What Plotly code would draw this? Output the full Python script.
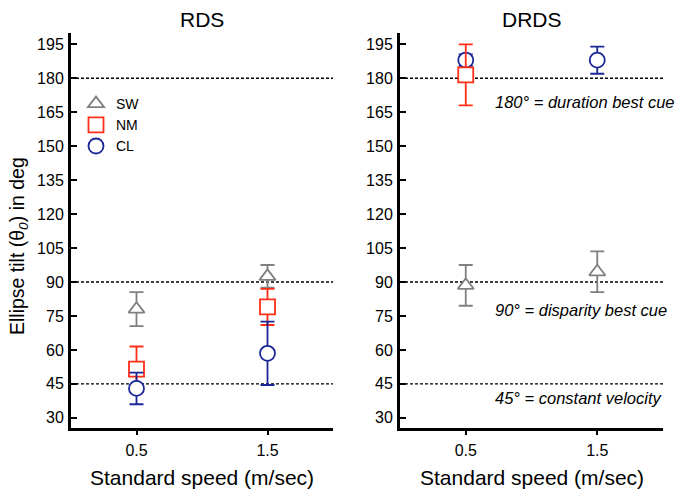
import plotly.graph_objects as go

# ---- data ----
speeds = [0.5, 1.5]
speed_labels = ["0.5", "1.5"]
panels = ["RDS", "DRDS"]
series = ["SW", "NM", "CL"]

rds_sw = [78.0, 92.5]
rds_sw_err = [7.5, 5.0]
rds_nm = [51.5, 79.0]
rds_nm_err = [10.0, 8.0]
rds_cl = [43.0, 58.5]
rds_cl_err = [7.0, 14.0]

drds_sw = [88.5, 94.5]
drds_sw_err = [9.0, 9.0]
drds_nm = [181.5, None]
drds_nm_err = [13.5, 0.0]
drds_cl = [188.0, 188.0]
drds_cl_err = [2.5, 6.0]

ref_lines = [45, 90, 180]
ref_labels = ["45° = constant velocity", "90° = disparity best cue", "180° = duration best cue"]
y_ticks = list(range(30, 196, 15))

colors = {"SW": "#808080", "NM": "#ff2e17", "CL": "#1a2696"}
symbols = {"SW": "triangle-up", "NM": "square", "CL": "circle"}
sizes = {"SW": 14, "NM": 15, "CL": 15}

W, H = 679, 491
FONT = "Liberation Sans, Arial, sans-serif"

fig = go.Figure()

def add(name, y, err, xa, ya, show):
    fig.add_trace(go.Scatter(
        x=speeds, y=y, mode="markers", name=name, showlegend=show,
        xaxis=xa, yaxis=ya,
        marker=dict(symbol=symbols[name], size=sizes[name], color="white",
                    line=dict(color=colors[name], width=1.8)),
        error_y=dict(type="data", array=err, visible=True, color=colors[name],
                     thickness=1.8, width=7),
    ))

add("SW", rds_sw, rds_sw_err, "x", "y", True)
add("NM", rds_nm, rds_nm_err, "x", "y", True)
add("CL", rds_cl, rds_cl_err, "x", "y", True)
add("CL", drds_cl, drds_cl_err, "x2", "y2", False)
add("NM", drds_nm, drds_nm_err, "x2", "y2", False)
add("SW", drds_sw, drds_sw_err, "x2", "y2", False)

ydom = [(H - 428) / H, (H - 33) / H]
xdom1 = [71 / W, 333 / W]
xdom2 = [400 / W, 663 / W]

xcommon = dict(range=[0, 2], tickvals=speeds, ticktext=speed_labels, ticks="outside",
               ticklen=4, tickwidth=2, tickcolor="black", showline=True, linewidth=3,
               linecolor="black", showgrid=False, zeroline=False, ticklabelstandoff=2,
               tickfont=dict(family=FONT, size=16, color="black"))
ycommon = dict(range=[25.5, 200], tickvals=y_ticks, ticks="inside", ticklen=6, tickwidth=2,
               tickcolor="black", showline=True, linewidth=3, linecolor="black",
               showgrid=False, zeroline=False, ticklabelstandoff=1,
               tickfont=dict(family=FONT, size=16, color="black"))

fig.update_layout(
    width=W, height=H, margin=dict(l=0, r=0, t=0, b=0),
    paper_bgcolor="white", plot_bgcolor="white",
    xaxis=dict(domain=xdom1, anchor="y", **xcommon),
    yaxis=dict(domain=ydom, anchor="x", **ycommon),
    xaxis2=dict(domain=xdom2, anchor="y2", **xcommon),
    yaxis2=dict(domain=ydom, anchor="x2", **ycommon),
    legend=dict(x=76 / W, y=(H - 88) / H, xanchor="left", yanchor="top",
                bgcolor="rgba(0,0,0,0)", font=dict(family=FONT, size=14, color="black"),
                tracegroupgap=0),
    showlegend=True,
)

for xr in ["x", "x2"]:
    yr = "y" if xr == "x" else "y2"
    for v in ref_lines:
        fig.add_shape(type="line", xref=f"{xr} domain", yref=yr, x0=0, x1=1, y0=v, y1=v,
                      line=dict(color="black", width=1.3, dash="3px,2px"), layer="below")

# reference labels in the right panel
label_offsets = {45: -14, 90: -28, 180: -24}
for v, t in zip(ref_lines, ref_labels):
    fig.add_annotation(xref="paper", yref="y2", x=493 / W, y=v, text=f"<i>{t}</i>",
                       showarrow=False, xanchor="left", yanchor="middle", yshift=label_offsets[v],
                       font=dict(family=FONT, size=16.5, color="black"))

# titles
for dom, title in zip([xdom1, xdom2], panels):
    cx = (dom[0] + dom[1]) / 2
    fig.add_annotation(xref="paper", yref="paper", x=cx, y=(H - 20) / H, text=title,
                       showarrow=False, xanchor="center", yanchor="middle",
                       font=dict(family=FONT, size=21, color="black"))
    fig.add_annotation(xref="paper", yref="paper", x=cx, y=(H - 477) / H,
                       text="Standard speed (m/sec)", showarrow=False,
                       xanchor="center", yanchor="middle",
                       font=dict(family=FONT, size=21, color="black"))

fig.add_annotation(xref="paper", yref="paper", x=19 / W, y=(H - 246) / H,
                   text="Ellipse tilt (θ<sub><i>0</i></sub>) in deg", textangle=-90,
                   showarrow=False, xanchor="center", yanchor="middle",
                   font=dict(family=FONT, size=19.5, color="black"))

fig.write_html("out.html", config={"displayModeBar": False},
               post_script="document.body.style.margin='0';document.body.style.overflow='hidden';")
